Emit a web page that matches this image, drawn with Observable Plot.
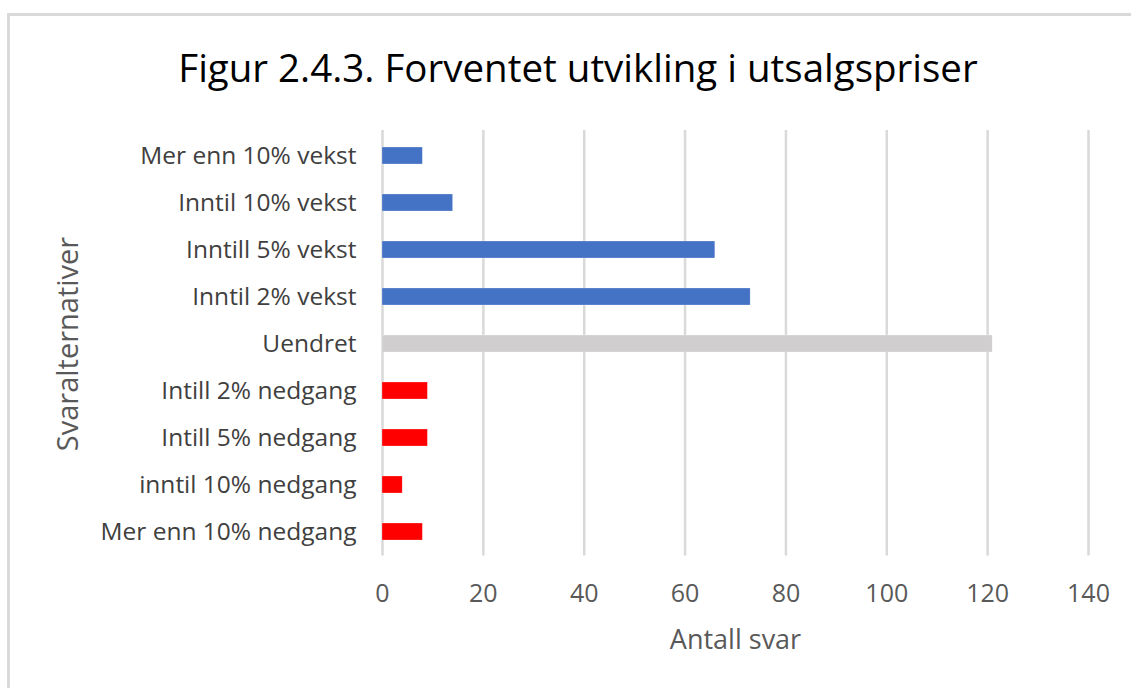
<!DOCTYPE html>
<html>
<head>
<meta charset="utf-8">
<script src="https://cdn.jsdelivr.net/npm/d3@7"></script>
<script src="https://cdn.jsdelivr.net/npm/@observablehq/plot@0.6"></script>
<style>
  html, body { margin: 0; padding: 0; background: #fff; }
  body { width: 1131px; height: 688px; position: relative; overflow: hidden; font-family: "Open Sans", sans-serif; }
  #frame { position: absolute; left: 7px; top: 13px; width: 1200px; height: 700px; border-left: 3px solid #d9d9d9; border-top: 3px solid #d9d9d9; box-sizing: border-box; }
  #title { position: absolute; left: 0; width: 1156px; top: 41px; text-align: center; font-size: 38.5px; line-height: normal; color: #000; font-family: "Open Sans", sans-serif; white-space: nowrap; }
  #chart { position: absolute; left: 0; top: 120px; }
</style>
</head>
<body>
<div id="frame"></div>
<div id="title">Figur 2.4.3. Forventet utvikling i utsalgspriser</div>
<div id="chart"></div>
<script>
const categories = [
  "Mer enn 10% vekst",
  "Inntil 10% vekst",
  "Inntill 5% vekst",
  "Inntil 2% vekst",
  "Uendret",
  "Intill 2% nedgang",
  "Intill 5% nedgang",
  "inntil 10% nedgang",
  "Mer enn 10% nedgang"
];
const values = [8, 14, 66, 73, 121, 9, 9, 4, 8];
const groups = ["vekst", "vekst", "vekst", "vekst", "uendret", "nedgang", "nedgang", "nedgang", "nedgang"];
const xTicks = [0, 20, 40, 60, 80, 100, 120, 140];
const groupNames = ["vekst", "uendret", "nedgang"];
const groupColors = ["#4472c4", "#d0cece", "#ff0000"];

const data = categories.map((c, i) => ({ category: c, value: values[i], group: groups[i] }));

const chart = Plot.plot({
  width: 1131,
  height: 536,
  marginLeft: 382,
  marginRight: 43,
  marginTop: 11.5,
  marginBottom: 100.5,
  style: { fontFamily: "'Open Sans', sans-serif", background: "transparent", overflow: "visible" },
  x: { domain: [0, 140], ticks: xTicks, label: null },
  y: { domain: categories, paddingInner: 0.64, paddingOuter: 0.32, label: null },
  color: { domain: groupNames, range: groupColors },
  marks: [
    Plot.ruleX(xTicks, { x: d => d, stroke: "#d9d9d9", strokeWidth: 2.5, insetTop: -1.5 }),
    Plot.barX(data, { y: "category", x: "value", fill: "group", stroke: "white", strokeOpacity: 0.5, strokeWidth: 0.5 }),
    Plot.axisX({ ticks: xTicks, tickSize: 0, tickPadding: 28, fontSize: 25, color: "#595959", label: "Antall svar", labelAnchor: "center", labelArrow: "none", labelOffset: 93 }),
    Plot.axisY({ tickSize: 0, tickPadding: 26, fontSize: 24.5, color: "#404040", label: "Svaralternativer", labelAnchor: "center", labelArrow: "none", labelOffset: 325 })
  ]
});
chart.querySelectorAll("[aria-label='x-axis label'] text").forEach(t => {
  t.setAttribute("font-size", "27");
  t.style.fontSize = "27px";
  t.setAttribute("fill", "#595959");
});
chart.querySelectorAll("[aria-label='y-axis label'] text").forEach(t => {
  t.setAttribute("font-size", "29");
  t.style.fontSize = "29px";
  t.setAttribute("fill", "#595959");
});
document.getElementById("chart").appendChild(chart);
</script>
</body>
</html>
